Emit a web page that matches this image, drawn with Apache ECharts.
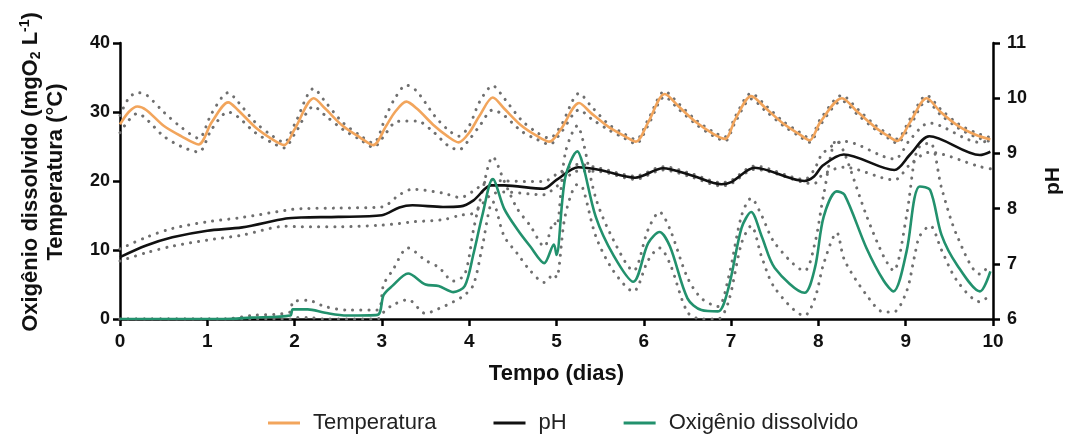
<!DOCTYPE html>
<html>
<head>
<meta charset="utf-8">
<script src="https://cdn.jsdelivr.net/npm/echarts@6/dist/echarts.min.js"></script>
<style>
html,body{margin:0;padding:0;background:#fff;}
#c{width:1065px;height:435px;}
</style>
</head>
<body>
<div id="c"></div>
<script>
// ---- Data ----
var xTicks = [0,1,2,3,4,5,6,7,8,9,10];
var legendNames = ['Temperatura', 'pH', 'Oxigênio dissolvido'];

// Temperature (°C): time (days), mean, upper and lower dotted bounds
var tempTime  = [0.00,0.10,0.20,0.30,0.50,0.70,0.90,1.05,1.24,1.35,1.55,1.75,1.88,2.00,2.22,2.35,2.55,2.75,2.90,3.05,3.15,3.28,3.40,3.60,3.75,3.88,4.00,4.12,4.27,4.40,4.60,4.78,4.92,5.05,5.26,5.40,5.60,5.78,5.91,6.05,6.24,6.40,6.60,6.80,6.93,7.05,7.23,7.40,7.60,7.78,7.90,8.02,8.27,8.45,8.65,8.80,8.90,9.05,9.24,9.40,9.60,9.80,9.97];
var tempMean  = [28.2,30.0,30.8,30.3,28.0,26.5,25.3,28.5,31.4,30.3,27.8,26.0,25.2,27.5,32.0,30.5,28.0,26.3,25.2,28.0,30.0,31.5,30.5,28.0,26.5,25.6,27.0,29.5,32.1,30.5,28.0,26.5,25.7,27.5,31.3,29.8,27.8,26.5,25.7,28.5,32.6,30.8,28.5,26.8,26.1,29.0,32.3,30.5,28.3,26.8,25.9,28.5,32.0,30.0,27.8,26.5,25.8,28.5,32.0,30.0,28.0,26.7,26.0];
var tempUpper = [29.5,32.0,32.8,32.5,30.0,27.8,26.2,29.8,32.8,31.5,28.5,26.5,25.6,28.2,33.4,31.5,28.5,26.6,25.5,29.5,32.0,33.9,33.0,29.5,27.5,26.5,28.0,31.5,33.8,32.0,28.8,27.0,26.2,28.0,32.7,30.8,28.2,26.8,26.0,28.9,33.0,31.2,28.8,27.1,26.4,29.4,32.7,30.9,28.6,27.1,26.2,28.9,32.4,30.4,28.1,26.8,26.1,29.0,32.4,30.4,28.3,27.0,26.3];
var tempLower = [27.0,28.8,29.8,29.0,26.5,25.0,24.2,27.5,30.0,29.3,27.0,25.5,24.8,26.8,30.8,29.5,27.5,26.0,24.9,27.0,28.5,28.7,28.7,27.0,25.2,24.5,26.0,28.0,30.3,29.5,27.2,26.0,25.3,27.0,30.3,29.0,27.4,26.2,25.4,28.1,32.2,30.4,28.2,26.5,25.8,28.6,31.9,30.1,28.0,26.5,25.6,28.1,31.6,29.6,27.5,26.2,25.5,28.0,31.6,29.6,27.7,26.4,25.7];

// pH: time (days), mean, upper and lower dotted bounds
var phTime  = [0.00,0.30,0.60,1.00,1.40,1.90,2.08,2.50,3.00,3.20,3.35,3.70,3.90,4.05,4.25,4.40,4.85,5.00,5.25,5.50,5.90,6.22,6.55,6.89,7.00,7.27,7.84,7.95,8.05,8.29,8.87,9.05,9.27,9.85,9.97];
var phMean  = [7.12,7.33,7.48,7.60,7.66,7.82,7.84,7.85,7.88,8.02,8.06,8.03,8.04,8.15,8.42,8.42,8.36,8.52,8.75,8.70,8.56,8.73,8.60,8.44,8.48,8.74,8.50,8.58,8.78,8.98,8.70,8.98,9.31,8.97,9.03];
var phUpper = [7.27,7.48,7.64,7.76,7.84,7.97,8.00,8.01,8.03,8.25,8.35,8.28,8.20,8.32,8.52,8.50,8.49,8.62,8.80,8.73,8.59,8.76,8.63,8.47,8.51,8.77,8.53,8.70,9.00,9.22,8.90,9.25,9.55,9.20,9.24];
var phLower = [7.05,7.20,7.32,7.43,7.52,7.68,7.67,7.67,7.70,7.73,7.76,7.80,7.88,7.92,8.25,8.30,8.25,8.40,8.68,8.67,8.53,8.70,8.57,8.41,8.45,8.71,8.47,8.45,8.62,8.75,8.52,8.80,9.02,8.76,8.72];

// Dissolved oxygen (mgO2 L-1): time (days), mean, upper and lower dotted bounds
var oxTime  = [0.00,1.20,1.50,1.95,1.98,2.15,2.35,2.60,2.95,3.02,3.12,3.30,3.50,3.65,3.82,3.95,4.05,4.15,4.27,4.40,4.55,4.70,4.86,4.97,5.00,5.10,5.24,5.30,5.45,5.65,5.88,6.05,6.18,6.30,6.50,6.66,6.85,6.97,7.12,7.23,7.35,7.50,7.84,7.96,8.06,8.21,8.30,8.55,8.75,8.86,9.01,9.10,9.16,9.28,9.41,9.59,9.85,9.97];
var oxMean  = [0.0,0.0,0.2,0.5,1.4,1.4,0.9,0.5,0.6,3.5,4.8,6.6,5.0,4.8,3.9,4.8,9.5,15.0,20.3,16.0,13.0,10.5,8.1,10.8,9.3,20.5,24.3,22.5,14.8,9.3,5.4,11.0,12.6,10.5,3.0,1.3,1.1,4.5,13.2,15.5,12.0,7.4,3.8,7.4,14.8,18.5,18.0,10.3,5.5,4.0,9.8,17.5,19.2,18.7,12.2,7.8,4.0,6.9];
var oxUpper = [0.0,0.0,0.5,1.0,2.5,2.7,1.8,1.3,1.3,5.0,7.0,10.3,8.5,7.5,5.5,6.5,13.0,18.5,23.5,20.0,16.0,13.5,10.5,14.0,13.5,24.0,28.0,26.0,17.5,11.5,7.0,13.0,15.5,13.0,6.0,3.0,1.8,6.0,15.0,17.5,15.0,11.0,7.0,11.0,18.0,26.0,24.0,15.0,9.0,7.0,15.0,23.0,25.0,25.5,19.0,12.0,6.5,8.0];
var oxLower = [0.0,0.0,0.0,0.0,0.2,0.2,0.0,0.0,0.0,1.0,2.0,2.8,0.8,1.5,2.5,3.5,5.0,10.5,17.0,12.0,9.5,7.0,5.3,6.5,6.0,15.0,19.5,19.0,12.0,7.0,4.0,8.5,10.3,8.0,1.0,0.0,0.0,2.5,11.0,13.5,9.0,4.5,0.5,3.0,8.0,12.5,8.5,3.5,1.0,1.0,4.0,9.0,12.0,13.5,10.0,5.5,2.5,3.5];

// ---- helpers ----
function zip(t, v){ return t.map(function(x,i){ return [x, v[i]]; }); }

var colT = '#F2A55C', colPH = '#111111', colOX = '#22916D', colBand = '#6f6f6f';
var bold = "'Liberation Sans', Arial, sans-serif";
var narrow = "'Liberation Sans Narrow', 'Arial Narrow', 'Liberation Sans', Arial, sans-serif";

function band(name, data, yIdx){
  return {
    name: name, type: 'line', yAxisIndex: yIdx, data: data,
    showSymbol: false, silent: true, smooth: 0.3, z: 2,
    lineStyle: { color: colBand, width: 3, type: [0.1, 8], cap: 'round' }
  };
}
function mean(name, data, yIdx, color){
  return {
    name: name, type: 'line', yAxisIndex: yIdx, data: data,
    showSymbol: false, smooth: 0.3, z: 5, color: color,
    lineStyle: { color: color, width: 2.6 }
  };
}

var chart = echarts.init(document.getElementById('c'), null, {renderer: 'canvas'});
var axisLine = { show: true, lineStyle: { color: '#000', width: 2.5 } };
var axisTick = { show: true, length: 7, lineStyle: { color: '#000', width: 2.5 } };

chart.setOption({
  animation: false,
  backgroundColor: '#fff',
  grid: { left: 120, right: 72, top: 43, bottom: 116, outerBoundsMode: 'none', containLabel: false },
  legend: {
    data: legendNames,
    left: 263, top: 407,
    icon: 'rect', itemWidth: 32, itemHeight: 3, itemGap: 57,
    textStyle: { fontFamily: bold, fontSize: 22, color: '#222', padding: [0,0,0,8] }
  },
  xAxis: {
    type: 'value', min: 0, max: 10, interval: 1,
    axisLine: axisLine, axisTick: axisTick, splitLine: { show: false },
    axisLabel: { margin: 13, fontFamily: narrow, fontWeight: 'bold', fontSize: 19, color: '#111',
      formatter: function(v){ return xTicks.indexOf(v) >= 0 ? String(v) : ''; } },
    name: 'Tempo (dias)', nameLocation: 'middle', nameGap: 44,
    nameTextStyle: { fontFamily: narrow, fontWeight: 'bold', fontSize: 22, color: '#111' }
  },
  yAxis: [
    {
      type: 'value', min: 0, max: 40, interval: 10, position: 'left',
      axisLine: axisLine, axisTick: axisTick, splitLine: { show: false },
      axisLabel: { margin: 10, fontFamily: bold, fontWeight: 'bold', fontSize: 18, color: '#111' },
      name: '{b|Oxigênio dissolvido (mgO}{sub|2}{b| L}{sup|-1}{b|)}\n{b|Temperatura (°C)}',
      nameLocation: 'middle', nameGap: 52,
      nameTextStyle: {
        align: 'center',
        padding: [0, 0, 0, 18],
        rich: {
          b: { fontFamily: bold, fontWeight: 'bold', fontSize: 22, lineHeight: 25, color: '#111' },
          sub: { fontFamily: bold, fontWeight: 'bold', fontSize: 14, lineHeight: 13, verticalAlign: 'bottom', color: '#111' },
          sup: { fontFamily: bold, fontWeight: 'bold', fontSize: 14, lineHeight: 13, verticalAlign: 'top', color: '#111' }
        }
      }
    },
    {
      type: 'value', min: 6, max: 11, interval: 1, position: 'right',
      axisLine: axisLine, axisTick: axisTick, splitLine: { show: false },
      axisLabel: { margin: 14, fontFamily: bold, fontWeight: 'bold', fontSize: 18, color: '#111' },
      name: 'pH', nameLocation: 'middle', nameGap: 50,
      nameTextStyle: { fontFamily: bold, fontWeight: 'bold', fontSize: 21, color: '#111' }
    }
  ],
  series: [
    band('T_up', zip(tempTime, tempUpper), 0),
    band('T_lo', zip(tempTime, tempLower), 0),
    band('pH_up', zip(phTime, phUpper), 1),
    band('pH_lo', zip(phTime, phLower), 1),
    band('OD_up', zip(oxTime, oxUpper), 0),
    band('OD_lo', zip(oxTime, oxLower), 0),
    mean(legendNames[0], zip(tempTime, tempMean), 0, colT),
    mean(legendNames[1], zip(phTime, phMean), 1, colPH),
    mean(legendNames[2], zip(oxTime, oxMean), 0, colOX)
  ]
});
</script>
</body>
</html>
